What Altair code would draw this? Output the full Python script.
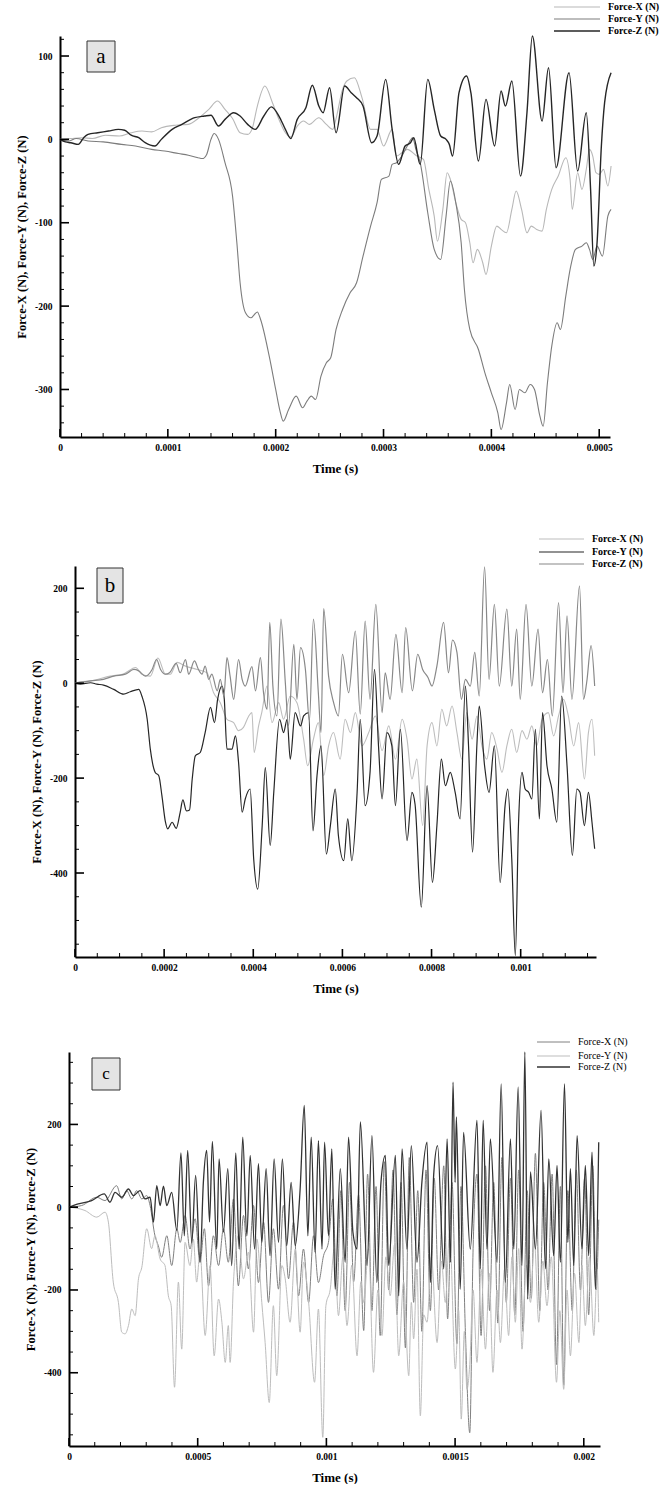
import altair as alt
import pandas as pd

SERIF = "Liberation Serif"
NAMES = ["Force-X (N)", "Force-Y (N)", "Force-Z (N)"]

# ---------------- Panel a (time in microseconds, force in N) ----------------
A_FX = [(0,0),(10,1),(20,2),(30,1),(42,5),(55,4),(66,8),(76,10),(85,9),(94,14),(107,17),(119,18),(129,26),(138,36),(146,46),(153,36),(160,25),(167,8),(174,6),(178,12),(183,40),(190,64),(197,44),(203,24),(209,8),(214,3),(220,16),(226,22),(231,18),(240,26),(247,18),(253,12),(256,25),(262,60),(266,70),(273,74),(280,50),(288,12),(294,12),(300,-8),(308,12),(312,-20),(317,-16),(322,-12),(331,-20),(337,-24),(342,-60),(347,-92),(350,-122),(355,-84),(359,-40),(362,-48),(367,-76),(372,-96),(376,-100),(380,-124),(383,-148),(387,-132),(392,-148),(395,-162),(400,-128),(405,-104),(409,-108),(414,-112),(419,-84),(423,-62),(428,-84),(433,-112),(437,-104),(442,-108),(447,-110),(451,-84),(456,-60),(462,-44),(469,-22),(473,-48),(475,-84),(480,-40),(484,-60),(488,-36),(491,-12),(494,-20),(497,-40),(500,-42),(504,-36),(508,-56),(511,-32)]
A_FY = [(0,0),(8,-2),(15,1),(26,-2),(40,-3),(57,-6),(70,-8),(85,-12),(97,-14),(110,-17),(119,-19),(128,-22),(132,-23),(136,-18),(140,0),(143,7),(147,0),(153,-28),(160,-68),(164,-124),(167,-172),(172,-208),(177,-214),(183,-207),(186,-216),(194,-260),(200,-300),(204,-326),(207,-338),(212,-324),(219,-308),(225,-322),(229,-314),(233,-308),(237,-312),(242,-284),(247,-268),(251,-262),(256,-228),(262,-204),(269,-184),(275,-172),(281,-140),(288,-104),(294,-76),(298,-48),(305,-44),(308,-30),(312,-28),(317,-20),(322,-8),(327,2),(330,-12),(334,-28),(341,-88),(347,-132),(353,-144),(358,-92),(362,-50),(367,-76),(372,-124),(375,-180),(380,-228),(388,-252),(394,-280),(400,-304),(406,-328),(409,-348),(414,-316),(417,-294),(422,-324),(426,-300),(431,-304),(436,-294),(440,-300),(445,-332),(448,-344),(452,-292),(456,-248),(461,-220),(464,-228),(469,-188),(473,-156),(478,-132),(484,-128),(488,-124),(491,-132),(494,-144),(498,-128),(503,-140),(508,-92),(511,-84)]
A_FZ = [(0,0),(5,-3),(10,-4),(17,-6),(22,2),(26,6),(35,8),(45,10),(54,12),(60,11),(66,5),(73,2),(79,-4),(88,-8),(94,0),(104,12),(113,18),(125,26),(134,28),(140,29),(147,16),(153,24),(161,32),(167,28),(174,18),(181,12),(189,28),(196,39),(203,28),(209,12),(214,1),(220,24),(228,38),(234,65),(240,40),(244,32),(250,62),(256,8),(264,64),(270,56),(275,50),(281,40),(289,-4),(294,4),(302,72),(308,12),(314,-30),(320,-8),(325,-4),(328,2),(334,-30),(341,72),(347,36),(353,4),(358,0),(361,-6),(364,-20),(370,56),(377,76),(381,56),(388,-26),(395,48),(403,-8),(409,58),(413,40),(419,70),(427,-44),(433,32),(438,124),(447,22),(453,86),(460,-34),(472,80),(480,-38),(488,32),(492,-60),(495,-152),(498,-124),(502,-8),(505,44),(511,80)]

# ---------------- Panel b ----------------
B_FX = [(0,0),(12,3),(35,5),(79,15),(110,20),(136,33),(150,19),(169,15),(186,53),(203,19),(214,19),(229,44),(248,36),(274,29),(296,22),(311,-20),(326,-41),(341,-76),(356,-83),(367,-100),(378,-93),(390,-69),(397,-62),(402,-146),(412,-90),(419,-62),(431,-6),(442,-83),(457,-41),(468,-76),(483,-27),(498,-41),(513,-118),(522,-174),(535,-118),(546,-83),(558,-195),(569,-132),(580,-104),(595,-160),(606,-76),(618,-104),(629,-62),(644,-132),(659,-104),(674,-69),(689,-142),(704,-90),(719,-160),(734,-76),(745,-118),(756,-202),(767,-160),(780,-300),(790,-132),(801,-83),(812,-132),(823,-55),(834,-90),(846,-48),(857,-104),(868,-160),(879,-62),(891,-118),(902,-69),(913,-132),(924,-160),(935,-104),(947,-139),(958,-188),(969,-132),(980,-97),(991,-146),(1003,-100),(1014,-118),(1025,-90),(1036,-132),(1048,-76),(1062,-62),(1074,-111),(1085,-69),(1096,-34),(1107,-69),(1119,-132),(1130,-83),(1143,-202),(1152,-104),(1160,-76),(1166,-153)]
B_FY = [(0,0),(12,-2),(35,1),(49,-2),(64,-4),(87,-13),(109,-23),(124,-18),(143,-13),(150,-27),(162,-76),(169,-139),(180,-188),(188,-195),(195,-237),(203,-293),(208,-307),(218,-293),(227,-306),(236,-272),(242,-246),(250,-269),(257,-267),(263,-202),(270,-153),(281,-146),(292,-104),(304,-51),(313,-83),(320,-34),(330,-6),(335,-34),(341,-139),(352,-139),(360,-111),(367,-167),(375,-272),(382,-244),(393,-223),(401,-371),(410,-434),(420,-300),(427,-178),(438,-342),(446,-230),(459,-76),(468,-104),(476,-76),(483,-160),(494,-62),(506,-90),(513,-69),(524,-62),(534,-311),(543,-195),(552,-132),(564,-360),(573,-300),(584,-223),(591,-321),(603,-374),(612,-286),(621,-374),(633,-230),(640,-76),(651,-258),(662,-188),(672,29),(681,-132),(689,-244),(700,-104),(711,-132),(719,-258),(730,-97),(745,-332),(756,-230),(763,-255),(777,-472),(790,-216),(802,-420),(812,-300),(822,-160),(831,-216),(842,-188),(853,-230),(864,-286),(876,-6),(883,-132),(892,-356),(902,-125),(907,-48),(919,-174),(929,-230),(941,-132),(954,-420),(965,-258),(971,-223),(980,-370),(988,-574),(995,-300),(1003,-188),(1010,-223),(1018,-230),(1025,-244),(1033,-97),(1042,-286),(1049,-62),(1059,-174),(1070,-223),(1081,-293),(1092,-27),(1104,-174),(1116,-363),(1126,-223),(1133,-230),(1143,-300),(1152,-230),(1160,-293),(1166,-349)]
B_FZ = [(0,0),(35,5),(64,8),(87,15),(113,19),(132,29),(143,26),(158,15),(173,29),(183,50),(192,29),(203,19),(212,22),(227,42),(236,22),(248,50),(255,19),(268,47),(277,29),(285,19),(292,36),(300,8),(307,19),(319,-16),(326,8),(334,-27),(341,54),(348,15),(356,-34),(367,50),(375,8),(382,-6),(397,35),(405,-16),(416,54),(423,-20),(431,-55),(437,128),(444,-6),(453,-69),(462,135),(472,0),(479,-90),(491,82),(498,-34),(506,75),(517,29),(526,-79),(535,135),(546,-20),(552,-104),(558,157),(569,15),(580,-40),(591,-69),(600,61),(614,-20),(629,110),(640,-65),(651,131),(662,-34),(675,166),(689,-62),(696,22),(707,-34),(720,103),(734,-20),(742,117),(757,-16),(769,61),(780,29),(792,12),(801,-6),(812,36),(827,128),(838,22),(847,91),(857,65),(867,-34),(876,8),(887,-6),(897,65),(907,-27),(919,245),(929,8),(941,166),(952,-6),(969,156),(980,-6),(991,114),(999,-34),(1012,166),(1025,-6),(1039,114),(1049,-20),(1060,50),(1071,-69),(1085,170),(1095,-20),(1104,142),(1115,-34),(1132,205),(1141,-34),(1148,1),(1158,79),(1166,-6)]

# ---------------- Panel c ----------------
C_FX = [(0,0),(49,4),(108,24),(140,16),(185,52),(205,20),(224,40),(244,20),(263,40),(283,20),(302,28),(315,4),(334,-69),(347,-93),(360,-121),(380,-69),(399,-141),(419,-52),(432,-85),(451,-20),(470,-101),(490,-28),(509,-133),(526,-52),(542,-190),(561,-69),(581,-141),(600,-52),(619,-133),(639,20),(658,-190),(678,-20),(697,-149),(717,4),(736,-182),(756,-36),(775,-230),(794,-52),(814,-198),(833,4),(853,-173),(872,-36),(892,-214),(911,-101),(931,-230),(950,-69),(969,-182),(989,-117),(1008,-85),(1025,20),(1041,-214),(1056,40),(1073,-250),(1090,60),(1106,-180),(1125,30),(1145,-298),(1160,80),(1177,-250),(1193,50),(1209,-310),(1225,110),(1242,-200),(1259,90),(1274,-260),(1290,60),(1307,-340),(1322,120),(1339,-230),(1355,40),(1371,-300),(1387,90),(1404,-250),(1419,70),(1436,-200),(1456,100),(1471,-270),(1488,60),(1507,-330),(1523,50),(1540,-300),(1557,-545),(1570,-100),(1585,80),(1601,-310),(1618,100),(1634,-250),(1650,60),(1666,-280),(1682,120),(1699,-230),(1715,70),(1732,-260),(1747,90),(1764,-300),(1780,40),(1796,-220),(1812,130),(1829,-250),(1844,60),(1861,-200),(1877,80),(1894,-380),(1909,50),(1922,-430),(1938,40),(1955,-250),(1971,90),(1987,-200),(2003,70),(2019,-260),(2035,100),(2048,-200),(2058,-30)]
C_FY = [(0,0),(62,-8),(108,-24),(140,-12),(153,-36),(172,-181),(192,-230),(205,-302),(218,-306),(231,-286),(244,-246),(257,-262),(270,-173),(283,-145),(302,-52),(321,-100),(334,-69),(354,-125),(373,-141),(386,-214),(397,-238),(410,-435),(425,-181),(438,-343),(451,-85),(470,-141),(483,-77),(496,-181),(509,-109),(529,-310),(548,-141),(564,-359),(581,-222),(594,-278),(607,-375),(619,-286),(626,-375),(639,-181),(658,-69),(678,-173),(697,-109),(717,-302),(730,-77),(749,-230),(762,-327),(778,-472),(794,-238),(807,-407),(827,-141),(840,-173),(859,-278),(879,-101),(898,-302),(911,-133),(931,-230),(954,-423),(969,-246),(986,-556),(998,-238),(1015,-198),(1031,-100),(1047,-262),(1064,-120),(1080,-286),(1099,-140),(1119,-359),(1134,-180),(1145,-230),(1164,-100),(1183,-399),(1200,-200),(1216,-310),(1231,-120),(1248,-214),(1265,-90),(1281,-359),(1300,-180),(1320,-407),(1330,-230),(1339,-318),(1352,-150),(1365,-504),(1378,-260),(1391,-278),(1408,-120),(1430,-327),(1447,-130),(1462,-230),(1479,-60),(1501,-391),(1514,-250),(1524,-512),(1536,-300),(1546,-440),(1557,-380),(1570,-200),(1585,-375),(1601,-150),(1618,-343),(1633,-160),(1647,-399),(1663,-200),(1676,-327),(1692,-150),(1708,-310),(1721,-120),(1734,-278),(1747,-100),(1760,-343),(1776,-140),(1793,-230),(1808,-80),(1825,-278),(1841,-130),(1857,-238),(1874,-120),(1894,-423),(1907,-250),(1922,-440),(1935,-200),(1948,-359),(1964,-160),(1981,-327),(1993,-140),(2006,-286),(2022,-120),(2039,-310),(2052,-150),(2058,-278)]
C_FZ = [(0,0),(36,8),(88,16),(137,32),(159,12),(179,36),(205,24),(231,44),(250,28),(276,40),(295,20),(315,24),(328,-36),(341,52),(354,4),(367,51),(380,4),(399,36),(419,-56),(435,131),(448,-69),(461,137),(477,-85),(492,77),(509,-133),(522,60),(535,137),(546,-36),(557,159),(574,-101),(583,117),(600,-60),(617,93),(632,-141),(648,131),(661,-101),(675,169),(691,-69),(704,125),(721,-101),(736,105),(749,-85),(766,93),(781,-117),(797,117),(814,-85),(829,117),(846,-93),(863,60),(879,-93),(898,44),(914,246),(928,-69),(941,169),(956,-109),(969,161),(983,-101),(993,157),(1008,-69),(1021,141),(1034,-198),(1054,93),(1073,-133),(1086,169),(1103,-60),(1119,-101),(1132,206),(1158,-141),(1177,173),(1196,-182),(1212,60),(1229,125),(1242,-141),(1268,125),(1281,-214),(1294,141),(1313,-101),(1330,149),(1352,-133),(1371,60),(1391,157),(1404,-182),(1417,80),(1432,149),(1456,-149),(1469,165),(1482,-133),(1492,302),(1500,60),(1505,218),(1520,-198),(1533,181),(1559,-101),(1585,210),(1598,-149),(1609,210),(1624,-101),(1637,165),(1663,-133),(1679,298),(1695,-182),(1715,165),(1728,-101),(1745,290),(1760,-141),(1771,375),(1782,-222),(1793,85),(1812,-101),(1834,234),(1851,-149),(1864,117),(1883,-117),(1896,101),(1909,-133),(1925,298),(1938,-85),(1948,93),(1961,-141),(1974,173),(1993,-101),(2006,101),(2019,-117),(2032,133),(2045,-198),(2058,157)]

# ---------------- Axis ticks ----------------
A_XTICKS = [0, 0.0001, 0.0002, 0.0003, 0.0004, 0.0005]
A_YTICKS = [-300, -200, -100, 0, 100]
B_XTICKS = [0, 0.0002, 0.0004, 0.0006, 0.0008, 0.001]
B_YTICKS = [-400, -200, 0, 200]
C_XTICKS = [0, 0.0005, 0.001, 0.0015, 0.002]
C_YTICKS = [-400, -200, 0, 200]


def minor(lo, hi, step, majors):
    out = []
    n = int(round((hi - lo) / step))
    for i in range(n + 1):
        v = round(lo + i * step, 9)
        if all(abs(v - m) > step * 1e-3 for m in majors):
            out.append(v)
    return out


def to_df(fx, fy, fz):
    rows = []
    for name, pts in zip(NAMES, [fx, fy, fz]):
        for t, f in pts:
            rows.append({"t": t * 1e-6, "f": f, "s": name})
    return pd.DataFrame(rows)


ONE = pd.DataFrame({"k": [0]})


def panel(df, colors, widths, W, H, xmax, ydom, xt, xminor, yt, yminor,
          leg_x1, leg_x2, leg_tx, leg_y, leg_bold, box, letter, letter_size):
    xs = alt.Scale(domain=[0, xmax], nice=False, zero=False)
    ys = alt.Scale(domain=ydom, nice=False, zero=False)
    xaxis = alt.Axis(values=xt, format="~g", title="Time (s)", grid=False, ticks=False,
                     domainColor="black", domainWidth=2, labelFont=SERIF, labelFontSize=9.5,
                     labelFontWeight="bold", labelColor="black", labelPadding=5,
                     labelFlush=False, labelOverlap=False,
                     titleFont=SERIF, titleFontSize=13, titleFontWeight="bold", titleColor="black",
                     titleY=31, titleBaseline="middle")
    yaxis = alt.Axis(values=yt, labelExpr="datum.value < 0 ? '-' + abs(datum.value) : '' + datum.value",
                     title="Force-X (N), Force-Y (N), Force-Z (N)", grid=False, ticks=False,
                     domainColor="black", domainWidth=2, labelFont=SERIF, labelFontSize=9.5,
                     labelFontWeight="bold", labelColor="black", labelPadding=8,
                     labelOverlap=False, labelFlush=False,
                     titleFont=SERIF, titleFontSize=12.5, titleFontWeight="bold", titleColor="black",
                     titleX=-38.5, titleY=H / 2, titleAngle=270, titleAlign="center",
                     titleBaseline="middle")
    layers = []
    for name, col, sw in zip(NAMES, colors, widths):
        layers.append(
            alt.Chart(df[df["s"] == name]).mark_line(strokeWidth=sw, interpolate="monotone", color=col)
            .encode(x=alt.X("t:Q", scale=xs, axis=xaxis), y=alt.Y("f:Q", scale=ys, axis=yaxis))
        )
    # inward ticks as tick marks, shifted so they only point into the plot
    for vals, ln, w in [(xt, 8, 1.6), (xminor, 4, 1)]:
        layers.append(alt.Chart(pd.DataFrame({"t": vals, "f": [ydom[0]] * len(vals)}))
                      .mark_tick(color="black", orient="vertical", size=ln, thickness=w, opacity=1,
                                 yOffset=-ln / 2)
                      .encode(x=alt.X("t:Q", scale=xs, axis=xaxis), y=alt.Y("f:Q", scale=ys, axis=yaxis)))
    for vals, ln, w in [(yt, 9, 1.6), (yminor, 4, 1)]:
        layers.append(alt.Chart(pd.DataFrame({"t": [0.0] * len(vals), "f": vals}))
                      .mark_tick(color="black", orient="horizontal", size=ln, thickness=w, opacity=1,
                                 xOffset=ln / 2)
                      .encode(x=alt.X("t:Q", scale=xs, axis=xaxis), y=alt.Y("f:Q", scale=ys, axis=yaxis)))
    # legend
    for name, col, sw, ly in zip(NAMES, colors, widths, leg_y):
        layers.append(alt.Chart(ONE).mark_rule(color=col, strokeWidth=sw)
                      .encode(x=alt.value(leg_x1), x2=alt.value(leg_x2), y=alt.value(ly)))
        layers.append(alt.Chart(ONE).mark_text(text=name, align="left", baseline="middle", font=SERIF,
                                               fontSize=10, fontWeight="bold" if leg_bold else "normal",
                                               color="black")
                      .encode(x=alt.value(leg_tx), y=alt.value(ly)))
    # panel letter box
    bx1, bx2, by1, by2 = box
    layers.append(alt.Chart(ONE).mark_rect(fill="#e4e4e4", stroke="#333333", strokeWidth=1)
                  .encode(x=alt.value(bx1), x2=alt.value(bx2), y=alt.value(by1), y2=alt.value(by2)))
    layers.append(alt.Chart(ONE).mark_text(text=letter, align="center", baseline="middle", font=SERIF,
                                           fontSize=letter_size, color="black")
                  .encode(x=alt.value((bx1 + bx2) / 2), y=alt.value((by1 + by2) / 2)))
    return alt.layer(*layers).properties(width=W, height=H)


def blank(w, h):
    return (alt.Chart(ONE).mark_rect(opacity=0)
            .encode(x=alt.value(0), x2=alt.value(1), y=alt.value(0), y2=alt.value(1))
            .properties(width=w, height=h))


pa = panel(to_df(A_FX, A_FY, A_FZ), ["#b8b8b8", "#7c7c7c", "#262626"], [1.1, 1.1, 1.4],
           550, 401, 0.000510, [-357, 124], A_XTICKS, minor(0, 0.0005, 0.00002, A_XTICKS),
           A_YTICKS, minor(-340, 120, 20, A_YTICKS),
           494, 540, 548, [-29, -17, -5], True, (27, 55, 5, 36), "a", 21)
pb = panel(to_df(B_FX, B_FY, B_FZ), ["#bdbdbd", "#262626", "#888888"], [1.1, 1.2, 1.2],
           521, 391, 0.001169, [-577, 247], B_XTICKS, minor(0, 0.00115, 0.00005, B_XTICKS),
           B_YTICKS, minor(-550, 200, 50, B_YTICKS),
           464, 509, 517, [-27, -14, -2], True, (22, 48, 2, 37), "b", 21)
pc = panel(to_df(C_FX, C_FY, C_FZ), ["#808080", "#bdbdbd", "#333333"], [1.0, 1.0, 1.3],
           531, 394, 0.002063, [-577, 375], C_XTICKS, minor(0, 0.002, 0.0001, C_XTICKS),
           C_YTICKS, minor(-550, 350, 50, C_YTICKS),
           468, 501, 509, [-10, 4, 15], False, (23, 51, 6, 38), "c", 17)

chart = alt.vconcat(
    alt.hconcat(blank(10, 1), pa, spacing=0),
    blank(1, 59),
    alt.hconcat(blank(25, 1), pb, spacing=0),
    blank(1, 42),
    alt.hconcat(blank(19, 1), pc, spacing=0),
    spacing=0,
).properties(
    padding={"left": 5, "top": 2, "right": 0, "bottom": 0},
    background="white",
).configure_view(stroke=None)

chart.save("out.html", embed_options={"renderer": "svg", "actions": False})
